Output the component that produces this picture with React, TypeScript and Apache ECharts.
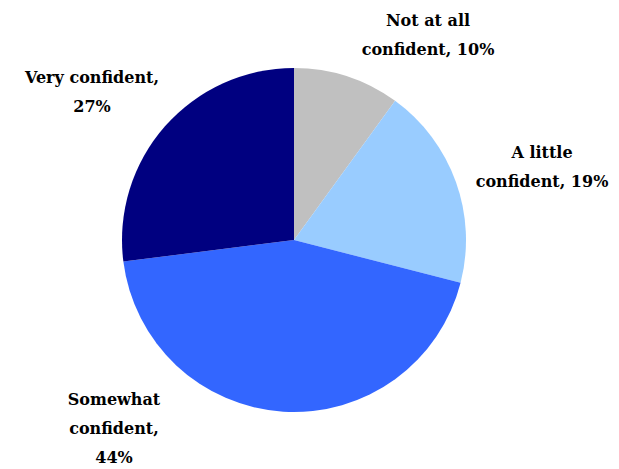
import React, { useEffect, useRef } from "react";
import * as echarts from "echarts";

const categories = ["Not at all\nconfident", "A little\nconfident", "Somewhat\nconfident,\n", "Very confident,\n"];
const names = ["Not at all confident", "A little confident", "Somewhat confident", "Very confident"];
const values = [10, 19, 44, 27];
const colors = ["#C0C0C0", "#99CCFF", "#3366FF", "#000080"];
const labelPos = [
  [428, 35],
  [542, 167],
  [114, 428],
  [92, 92],
];

const FONT = "'DejaVu Serif', serif";

export default function App() {
  const ref = useRef<HTMLDivElement>(null);
  useEffect(() => {
    const chart = echarts.init(ref.current!, null, { renderer: "svg" });
    chart.setOption({
      animation: false,
      backgroundColor: "#ffffff",
      textStyle: { fontFamily: FONT },
      series: [
        {
          type: "pie",
          center: [294, 240],
          radius: 172,
          startAngle: 90,
          clockwise: true,
          avoidLabelOverlap: false,
          data: values.map((v, i) => ({
            value: v,
            name: names[i],
            itemStyle: { color: colors[i] },
            label: {
              formatter: i < 2 ? categories[i] + ", " + v + "%" : categories[i] + v + "%",
            },
          })),
          label: {
            show: true,
            position: "outside",
            fontFamily: FONT,
            fontWeight: "bold",
            fontSize: 16,
            lineHeight: 29,
            color: "#000000",
            align: "center",
          },
          labelLine: { show: false },
          labelLayout: (params: any) => ({
            x: labelPos[params.dataIndex][0],
            y: labelPos[params.dataIndex][1],
            align: "center",
            verticalAlign: "middle",
            hideOverlap: false,
            moveOverlap: null,
          }),
          emphasis: { disabled: true },
        },
      ],
    });
    return () => chart.dispose();
  }, []);
  return (
    <div
      ref={ref}
      style={{ position: "fixed", left: 0, top: 0, width: 619, height: 469 }}
    />
  );
}
